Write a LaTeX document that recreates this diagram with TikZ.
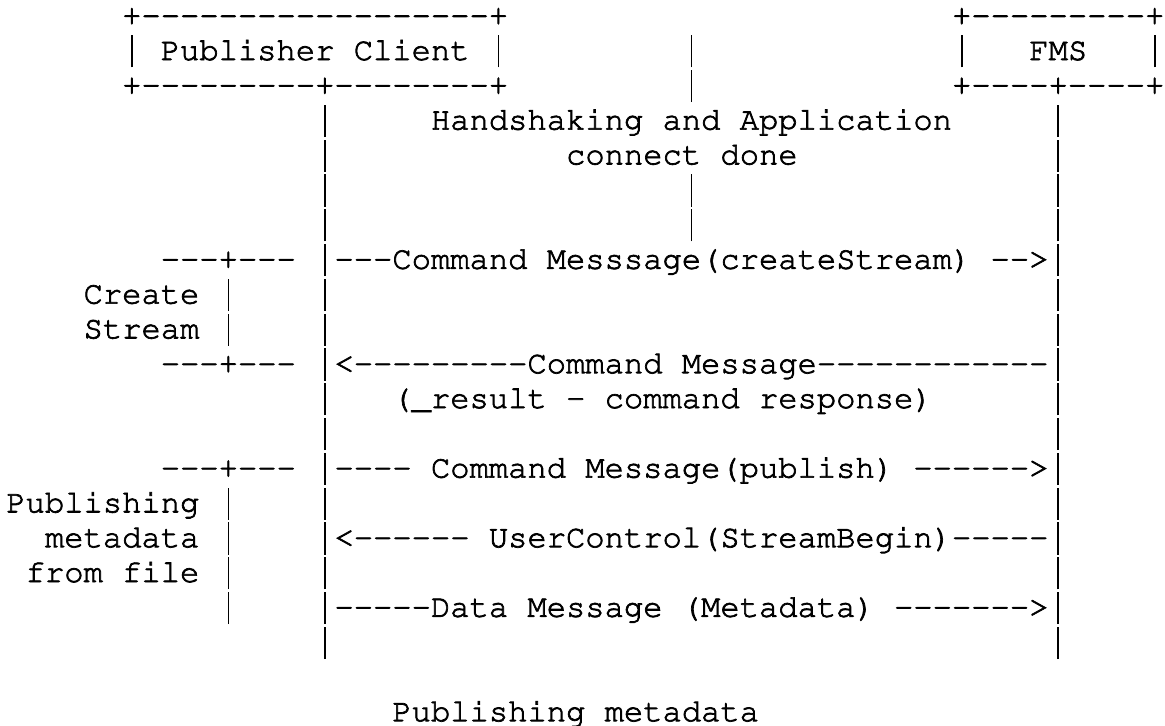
\documentclass[tikz,border=0pt]{standalone}
\usepackage[T1]{fontenc}
\newcommand\dsh[1]{\foreach\k in {1,...,#1}{-}}
\newcommand\vb{\makebox[0.6em]{\rule[-0.23em]{0.05em}{1em}}}
\makeatletter
\newcommand\inkfont{\pgfsys@invoke{0.35 w 2 Tr}}
\makeatother
\tikzset{txt/.style={anchor=base west,inner sep=0pt,outer sep=0pt,
    font=\fontfamily{pcr}\fontsize{16.08pt}{17.4pt}\selectfont\inkfont}}
\begin{document}
\begin{tikzpicture}[x=9.65pt,y=-17.4pt]
      \useasboundingbox (-3.2pt,12.6pt) rectangle (579.3pt,-349.9pt);
      % boxes
      \draw
        (6,0) node[txt] (pubtop){+\dsh{18}+}
        (6,1) node[txt] (pub){\vb{} Publisher Client \vb}
        (6,2) node[txt] (pubbot){+\dsh{9}+\dsh{8}+}
        (49,0) node[txt] (fmstop){+\dsh{9}+}
        (49,1) node[txt] (fmsl){\vb}
        (53,1) node[txt] (fms){FMS}
        (59,1) node[txt] (fmsr){\vb}
        (49,2) node[txt] (fmsbot){+\dsh{4}+\dsh{4}+};
      % middle line
      \foreach \r in {1,2,5,6}
        \draw (35,\r) node[txt] (mid\r){\vb};
      \draw
        (22,3) node[txt] (hs){Handshaking and Application}
        (29,4) node[txt] (done){connect done};
      % lifelines
      \foreach \r in {3,4,5,6,8,9,11,12,14,16,18}
        \draw (16,\r) node[txt] (cl\r){\vb}
              (54,\r) node[txt] (sv\r){\vb};
      % messages
      \draw
        (16,7) node[txt] (m1){\vb\dsh{3}Command Messsage(createStream) \dsh{2}>\vb}
        (16,10) node[txt] (m2){\vb<\dsh{9}Command Message\dsh{12}\vb}
        (20,11) node[txt] (res){(\_result - command response)}
        (16,13) node[txt] (m3){\vb\dsh{4} Command Message(publish) \dsh{6}>\vb}
        (16,15) node[txt] (m4){\vb<\dsh{6} UserControl(StreamBegin)\dsh{5}\vb}
        (16,17) node[txt] (m5){\vb\dsh{5}Data Message (Metadata) \dsh{7}>\vb};
      % phases
      \draw
        (8,7) node[txt] (cs1){\dsh{3}+\dsh{3}}
        (4,8) node[txt] (cs2){Create \vb}
        (4,9) node[txt] (cs3){Stream \vb}
        (8,10) node[txt] (cs4){\dsh{3}+\dsh{3}}
        (8,13) node[txt] (pm1){\dsh{3}+\dsh{3}}
        (0,14) node[txt] (pm2){Publishing \vb}
        (2,15) node[txt] (pm3){metadata \vb}
        (1,16) node[txt] (pm4){from file \vb}
        (11,17) node[txt] (pm5){\vb};
      \draw (20,20) node[txt] (cap){Publishing metadata};
    \end{tikzpicture}
\end{document}
